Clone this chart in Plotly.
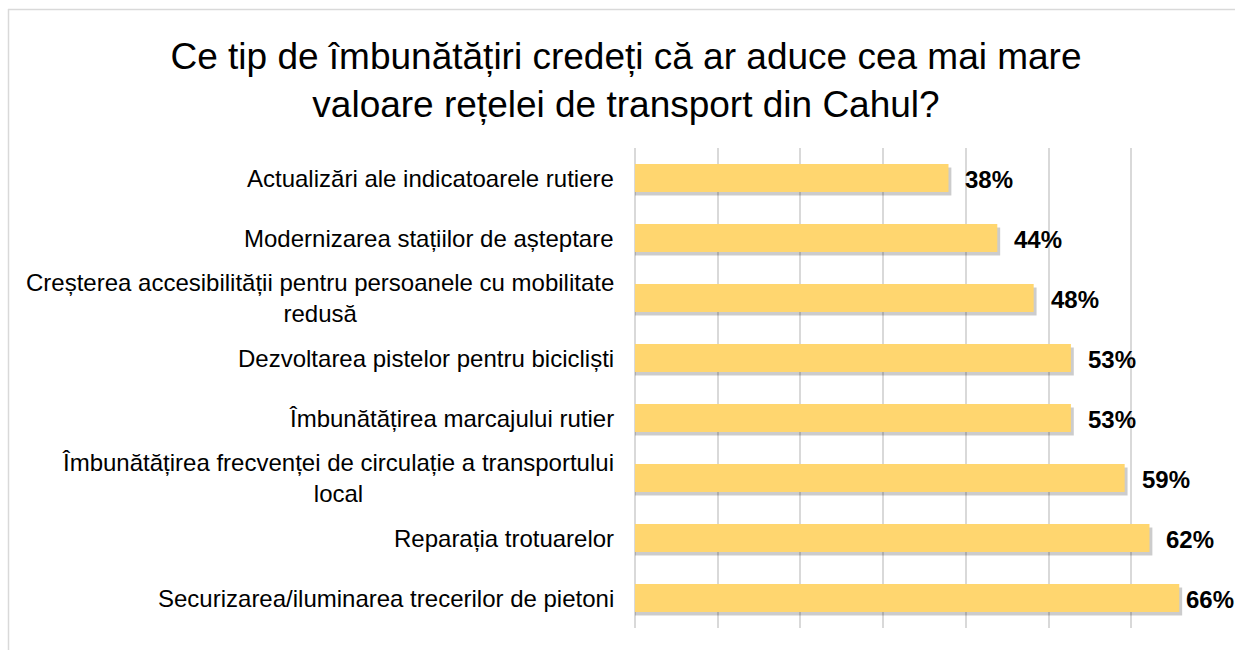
import plotly.graph_objects as go

categories = [
    "Actualizări ale indicatoarele rutiere",
    "Modernizarea stațiilor de așteptare",
    "Creșterea accesibilității pentru persoanele cu mobilitate<br>redusă",
    "Dezvoltarea pistelor pentru bicicliști",
    "Îmbunătățirea marcajului rutier",
    "Îmbunătățirea frecvenței de circulație a transportului<br>local",
    "Reparația trotuarelor",
    "Securizarea/iluminarea trecerilor de pietoni",
]
values = [37.9, 43.8, 48.2, 52.7, 52.7, 59.2, 62.2, 65.8]
x_ticks = [0, 10, 20, 30, 40, 50, 60, 70]

title_text = ("Ce tip de îmbunătățiri credeți că ar aduce cea mai mare<br>"
              "valoare rețelei de transport din Cahul?")

W, H = 1235, 650
ML, MR, MT, MB = 635, 21, 148, 22
PW, PH = W - ML - MR, H - MT - MB
X_MAX = 70

FONT = "Liberation Sans, Arial, sans-serif"
BAR_COLOR = "#FFD66F"
BAR_W = 0.467
LABEL_PX_W = 51  # approx width of a bold value label (incl. padding)
pos = list(range(len(categories)))


def px_x(px):
    return (px - ML) / PW


def px_y(py):
    return 1 - (py - MT) / PH


fig = go.Figure()

# soft shadow below/right of bars
fig.add_trace(go.Bar(
    y=pos, x=[v + 0.35 for v in values], orientation="h",
    width=BAR_W, offset=-BAR_W / 2 + 0.06,
    marker=dict(color="rgba(0,0,0,0.2)", line=dict(width=0)),
    hoverinfo="skip", showlegend=False,
))
fig.add_trace(go.Bar(
    y=pos, x=values, orientation="h",
    width=BAR_W, offset=-BAR_W / 2,
    marker=dict(color=BAR_COLOR, line=dict(width=0)),
    showlegend=False,
))

annotations = []
for p, cat in zip(pos, categories):
    annotations.append(dict(
        x=0, xref="paper", y=p, yref="y", text=cat,
        xanchor="right", yanchor="middle", xshift=-19, align="center",
        showarrow=False, font=dict(family=FONT, size=24, color="#000000"),
    ))
for p, v in zip(pos, values):
    bar_end_px = ML + v / X_MAX * PW
    shift = 15
    if bar_end_px + shift + LABEL_PX_W > W - 1:
        shift = max(5, W - 1 - LABEL_PX_W - bar_end_px)
    annotations.append(dict(
        x=v, xref="x", y=p, yref="y", text=f"<b>{round(v)}%</b>",
        xanchor="left", yanchor="middle", xshift=shift, yshift=-1,
        showarrow=False, font=dict(family=FONT, size=24, color="#000000"),
    ))

shapes = [
    dict(type="line", xref="paper", yref="paper",
         x0=px_x(8.5), x1=px_x(8.5), y0=px_y(9), y1=px_y(660),
         line=dict(color="#D9D9D9", width=1.5)),
    dict(type="line", xref="paper", yref="paper",
         x0=px_x(8), x1=px_x(1300), y0=px_y(9.5), y1=px_y(9.5),
         line=dict(color="#D9D9D9", width=1.5)),
]

fig.update_layout(
    width=W, height=H,
    margin=dict(l=ML, r=MR, t=MT, b=MB, pad=0),
    paper_bgcolor="white", plot_bgcolor="white",
    barmode="overlay",
    title=dict(text=title_text, x=626 / W, xanchor="center", xref="container",
               y=1 - 69 / H, yanchor="top", yref="container",
               font=dict(family=FONT, size=37, color="#000000")),
    xaxis=dict(range=[0, X_MAX], tickvals=x_ticks, showticklabels=False,
               showgrid=True, gridcolor="#D9D9D9", gridwidth=1.5,
               zeroline=True, zerolinecolor="#D9D9D9", zerolinewidth=1.5,
               showline=False, fixedrange=True),
    yaxis=dict(range=[len(categories) - 0.5, -0.5], tickvals=pos,
               showticklabels=False, showgrid=False, zeroline=False,
               showline=False, fixedrange=True),
    annotations=annotations,
    shapes=shapes,
    font=dict(family=FONT),
)

fig.write_html(
    "out.html",
    config={"displayModeBar": False},
    post_script="document.body.style.margin='0';document.body.style.overflow='hidden';",
)
